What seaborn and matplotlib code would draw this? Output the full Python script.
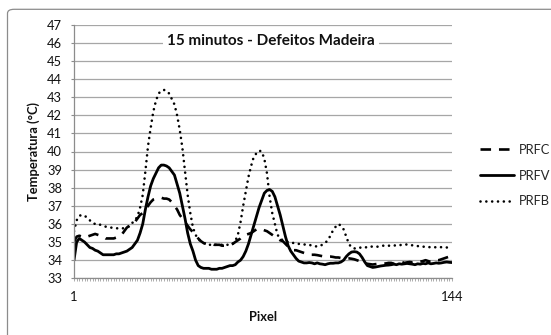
import numpy as np
import pandas as pd
import matplotlib
matplotlib.use("Agg")
import matplotlib.pyplot as plt
from matplotlib.patches import FancyBboxPatch
from matplotlib.ticker import MultipleLocator
import seaborn as sns

# pixel index along the scan line
pixel = list(range(1, 145))

prfc = [35.0, 35.3, 35.35, 35.3, 35.25, 35.3, 35.35, 35.4, 35.45, 35.4,
        35.35, 35.3, 35.2, 35.2, 35.2, 35.2, 35.25, 35.3, 35.4, 35.6,
        35.8, 35.9, 35.95, 36.1, 36.3, 36.5, 36.6, 36.8, 37.0, 37.2,
        37.35, 37.4, 37.4, 37.45, 37.4, 37.4, 37.35, 37.2, 37.0, 36.8,
        36.5, 36.3, 36.1, 35.9, 35.7, 35.55, 35.4, 35.2, 35.05, 34.95,
        34.9, 34.9, 34.9, 34.85, 34.85, 34.85, 34.8, 34.8, 34.83, 34.85,
        34.9, 35.0, 35.1, 35.2, 35.35, 35.4, 35.45, 35.5, 35.6, 35.7,
        35.75, 35.7, 35.65, 35.6, 35.5, 35.4, 35.3, 35.2, 35.1, 35.05,
        34.9, 34.75, 34.6, 34.55, 34.55, 34.5, 34.45, 34.4, 34.35, 34.3,
        34.3, 34.3, 34.28, 34.25, 34.22, 34.2, 34.2, 34.2, 34.18, 34.15,
        34.15, 34.12, 34.1, 34.1, 34.1, 34.08, 34.05, 34.0, 33.95, 33.9,
        33.85, 33.8, 33.78, 33.76, 33.78, 33.8, 33.8, 33.82, 33.82, 33.85,
        33.85, 33.8, 33.85, 33.88, 33.9, 33.85, 33.88, 33.9, 33.88, 33.9,
        33.95, 33.92, 33.95, 34.0, 33.95, 33.9, 33.95, 34.0, 34.0, 34.05,
        34.1, 34.15, 34.2, 34.25]

prfv = [34.0, 35.0, 35.2, 35.1, 35.0, 34.85, 34.7, 34.65, 34.55, 34.5,
        34.4, 34.3, 34.3, 34.3, 34.3, 34.3, 34.35, 34.35, 34.4, 34.45,
        34.5, 34.6, 34.7, 34.9, 35.1, 35.5, 36.0, 36.8, 37.5, 38.1,
        38.5, 38.8, 39.1, 39.25, 39.25, 39.2, 39.1, 38.9, 38.7, 38.2,
        37.7, 37.0, 36.3, 35.5, 34.9, 34.5, 34.0, 33.7, 33.6, 33.55,
        33.55, 33.55, 33.5, 33.5, 33.5, 33.55, 33.55, 33.6, 33.65, 33.7,
        33.7, 33.75, 33.9, 34.0, 34.2, 34.5, 34.9, 35.4, 35.9, 36.4,
        36.9, 37.3, 37.7, 37.85, 37.9, 37.8, 37.5, 37.0, 36.5, 35.9,
        35.3, 34.8, 34.5, 34.3, 34.1, 33.95, 33.9, 33.85, 33.85, 33.87,
        33.85, 33.8, 33.85, 33.8, 33.78, 33.75, 33.8, 33.83, 33.83, 33.85,
        33.85, 33.9, 34.0, 34.2, 34.35, 34.45, 34.47, 34.45, 34.35, 34.15,
        33.9, 33.7, 33.65, 33.6, 33.62, 33.65, 33.68, 33.7, 33.72, 33.73,
        33.75, 33.78, 33.75, 33.8, 33.78, 33.8, 33.82, 33.8, 33.78, 33.75,
        33.8, 33.78, 33.82, 33.8, 33.85, 33.8, 33.82, 33.85, 33.83, 33.85,
        33.88, 33.9, 33.88, 33.87]

prfb = [35.6, 36.2, 36.45, 36.5, 36.45, 36.35, 36.2, 36.05, 36.0, 36.02,
        35.95, 35.9, 35.85, 35.82, 35.8, 35.78, 35.76, 35.76, 35.76, 35.76,
        35.78, 35.9, 36.05, 36.2, 36.4, 36.9, 37.6, 38.9, 40.3, 41.3,
        42.2, 42.8, 43.2, 43.35, 43.4, 43.35, 43.2, 42.9, 42.6, 42.0,
        41.2, 40.2, 38.9, 37.6, 36.6, 35.8, 35.4, 35.15, 35.05, 34.95,
        34.9, 34.85, 34.85, 34.85, 34.85, 34.85, 34.85, 34.85, 34.85, 34.85,
        34.9, 35.05, 35.4, 36.1, 37.0, 37.8, 38.6, 39.2, 39.7, 39.9,
        40.05, 40.0, 39.6, 38.8, 37.5, 36.6, 36.0, 35.4, 35.2, 35.1,
        35.05, 35.0, 34.97, 34.95, 34.9, 34.9, 34.88, 34.87, 34.85, 34.85,
        34.8, 34.78, 34.75, 34.8, 34.85, 34.95, 35.1, 35.35, 35.65, 35.85,
        36.0, 35.9, 35.7, 35.3, 34.9, 34.7, 34.65, 34.65, 34.7, 34.68,
        34.72, 34.7, 34.75, 34.75, 34.73, 34.75, 34.78, 34.8, 34.78, 34.8,
        34.8, 34.82, 34.8, 34.82, 34.85, 34.85, 34.87, 34.85, 34.82, 34.8,
        34.78, 34.75, 34.75, 34.73, 34.72, 34.72, 34.7, 34.72, 34.7, 34.72,
        34.7, 34.7, 34.72, 34.7]

y_ticks = list(range(33, 48))
x_ticks = [1, 144]

sns.set_theme(style="white")
plt.rcParams["font.family"] = ["Lato", "DejaVu Sans"]

fig = plt.figure(figsize=(5.51, 3.35), dpi=100)
W, H = 551, 335
ax = fig.add_axes([74 / W, 1 - 278.3 / H, 378 / W, 253.6 / H])

# outer chart border (right and bottom edges fall outside the image)
fig.patches.append(FancyBboxPatch((7.5 / W, -20 / H), 560 / W, 345.7 / H,
                                  boxstyle="round,pad=0,rounding_size=0.012",
                                  transform=fig.transFigure, fill=False,
                                  edgecolor="#8c8c8c", lw=0.9))

df = pd.DataFrame({"pixel": pixel, "PRFC": prfc, "PRFV": prfv, "PRFB": prfb})

sns.lineplot(data=df, x="pixel", y="PRFC", ax=ax, color="black", lw=1.9,
             label="PRFC").lines[-1].set_dashes((4, 3))
sns.lineplot(data=df, x="pixel", y="PRFV", ax=ax, color="black", lw=2.0,
             label="PRFV")
l3 = sns.lineplot(data=df, x="pixel", y="PRFB", ax=ax, color="black", lw=1.9,
                  label="PRFB").lines[-1]
l3.set_dashes((0.01, 2.2))
l3.set_dash_capstyle("round")

ax.set_xlim(1, 144)
ax.set_ylim(33, 47)
ax.set_yticks(y_ticks)
ax.set_xticks(x_ticks)
ax.xaxis.set_minor_locator(MultipleLocator(1))
ax.grid(axis="y", color="#a6a6a6", lw=0.9)
ax.grid(axis="x", visible=False)
ax.set_axisbelow(True)
for s in ["top", "right"]:
    ax.spines[s].set_visible(False)
for s in ["left", "bottom"]:
    ax.spines[s].set_color("#8c8c8c")
    ax.spines[s].set_linewidth(0.9)
ax.tick_params(axis="y", which="major", length=2.5, width=0.8, color="#8c8c8c",
               pad=6, labelsize=9.3, labelcolor="#111111", left=True)
ax.tick_params(axis="x", which="major", length=2.5, width=0.5, color="#8c8c8c",
               pad=7, labelsize=9.3, labelcolor="#111111", bottom=True)
ax.tick_params(axis="x", which="minor", length=2.5, width=0.5, color="#8c8c8c",
               bottom=True)

ax.set_xlabel("Pixel", fontsize=9.3, fontweight="bold", color="#111111")
ax.set_ylabel("Temperatura (°C)", fontsize=9.3, fontweight="bold",
              color="#111111")
ax.xaxis.set_label_coords(0.5, -0.13)
ax.yaxis.set_label_coords(-0.09, 0.5)

ax.text(0.521, 0.935, "15 minutos - Defeitos Madeira", transform=ax.transAxes,
        ha="center", va="center", fontsize=11, fontweight="bold",
        color="#111111",
        bbox=dict(facecolor="white", edgecolor="none", pad=3))

ax.legend(loc="upper left", bbox_to_anchor=(480 / W, 1 - 144 / H),
          bbox_transform=fig.transFigure, frameon=False, fontsize=9.3,
          handlelength=2.6, handletextpad=0.4, labelspacing=1.05,
          borderpad=0, borderaxespad=0)

fig.savefig("out.png", dpi=100)
